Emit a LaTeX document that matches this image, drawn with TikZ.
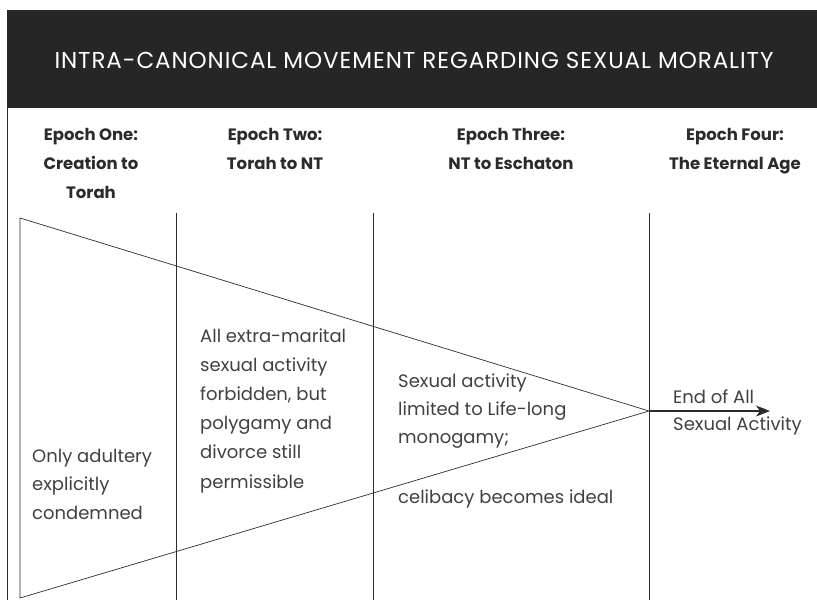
\documentclass[tikz,border=0pt]{standalone}
\usepackage{fontspec}
\setmainfont{Poppins}
\newfontfamily\titlefont[LetterSpace=4]{Poppins}
\usetikzlibrary{arrows.meta}
\definecolor{band}{HTML}{262626}
\definecolor{ink}{HTML}{2B2B2B}
\tikzset{
  head/.style={align=center, anchor=base, inner sep=0pt, font=\bfseries\fontsize{16.5}{29}\selectfont, text=ink},
  note/.style={align=left, anchor=base west, inner sep=0pt, font=\fontsize{18}{28.5}\selectfont, text=ink!90},
  rule/.style={draw=ink, line width=0.8pt},
}
\begin{document}
\begin{tikzpicture}[x=1pt,y=-1pt]
\useasboundingbox (0,0) rectangle (817,600);

% title band
\fill[band] (7,10) rectangle (817,108);
\node[text=white, font=\titlefont\fontsize{23}{26}\selectfont, anchor=base] (title) at (414,68) {INTRA-CANONICAL MOVEMENT REGARDING SEXUAL MORALITY};

% epoch headings (placed by the baseline of their last line)
\node[head] (e1) at (91,198) {Epoch One:\\Creation to\\Torah};
\node[head] (e2) at (275,169) {Epoch Two:\\Torah to NT};
\node[head] (e3) at (511,169) {Epoch Three:\\NT to Eschaton};
\node[head] (e4) at (735,169) {Epoch Four:\\The Eternal Age};

% column rules
\coordinate (l0) at (7,108);   \coordinate (b0) at (7,600);
\coordinate (l1) at (176,213); \coordinate (b1) at (176,600);
\coordinate (l2) at (373,213); \coordinate (b2) at (373,600);
\coordinate (l3) at (649,213); \coordinate (b3) at (649,600);
\path[rule] (l0) -- (b0);
\path[rule] (l1) -- (b1);
\path[rule] (l2) -- (b2);
\path[rule] (l3) -- (b3);

% narrowing wedge
\coordinate (top) at (20,218);
\coordinate (bot) at (20,598);
\coordinate (apex) at (649,411);
\coordinate (end) at (770,411);
\path[draw=ink, line width=0.7pt, line join=miter] (apex) -- (top) -- (bot) -- cycle;
\path[draw=ink, line width=1.2pt, -{Stealth[length=14pt,width=11pt,inset=4pt]}] (apex) -- (end);

% what each epoch allows (again by last baseline)
\node[note] (n1) at (32,519) {Only adultery\\explicitly\\condemned};
\node[note, font=\fontsize{18}{29.2}\selectfont] (n2) at (200,488) {All extra-marital\\sexual activity\\forbidden, but\\polygamy and\\divorce still\\permissible};
\node[note, font=\fontsize{18}{28}\selectfont] (n3) at (398,443) {Sexual activity\\limited to Life-long\\monogamy;};
\node[note] (n3b) at (398,503) {celibacy becomes ideal};
\node[note, font=\fontsize{18}{27}\selectfont] (n4) at (673,430) {End of All\\Sexual Activity};
\end{tikzpicture}
\end{document}
